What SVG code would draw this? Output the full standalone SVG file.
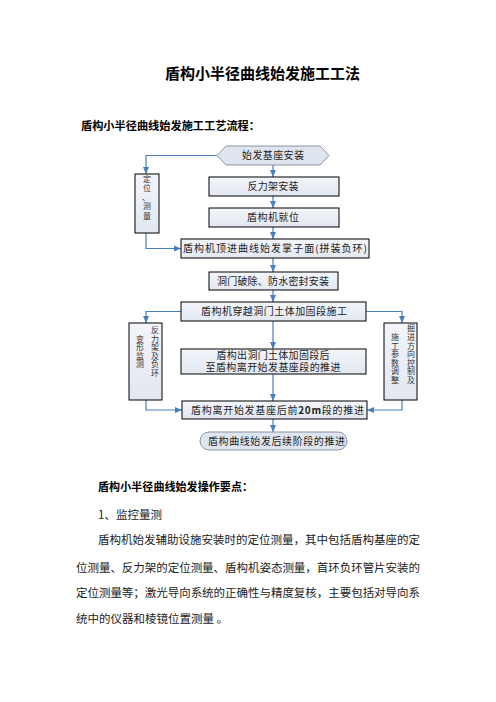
<svg xmlns="http://www.w3.org/2000/svg" width="496" height="702" viewBox="0 0 496 702">
<defs>
<marker id="ah" markerWidth="7" markerHeight="6" refX="7" refY="3" orient="auto" markerUnits="userSpaceOnUse">
<path d="M0,0 L7,3 L0,6 Z" fill="#4a7ebb"/>
</marker>
<linearGradient id="bg" x1="0" y1="0" x2="0" y2="1">
<stop offset="0" stop-color="#f3f5fa"/>
<stop offset="1" stop-color="#e2e7f1"/>
</linearGradient>
</defs>
<style>
.box{fill:url(#bg);stroke:#000;stroke-width:1}
.soft{fill:#dfe5ef;stroke:#8a94a6;stroke-width:1}
.t{font-family:"Noto Sans CJK SC","Noto Sans",sans-serif;font-size:10px;fill:#222;text-anchor:middle}
.v{font-family:"Noto Sans CJK SC","Noto Sans",sans-serif;font-size:8px;fill:#333;text-anchor:middle}
.c{fill:none;stroke:#4a7ebb;stroke-width:1.2;marker-end:url(#ah)}
.h{font-family:"Noto Sans CJK SC","Noto Sans",sans-serif;font-weight:bold;fill:#000}
.p{font-family:"Noto Sans CJK SC","Noto Sans",sans-serif;font-size:11.5px;fill:#222}
</style>
<rect width="496" height="702" fill="#fff"/>
<text class="h" x="262.5" y="79" font-size="15" text-anchor="middle">盾构小半径曲线始发施工工法</text>
<text class="h" x="81" y="130" font-size="11.2" textLength="179">盾构小半径曲线始发施工工艺流程：</text>

<g id="connectors">
<path class="c" d="M273,165 V177"/>
<path class="c" d="M273,196 V208"/>
<path class="c" d="M273,227 V239"/>
<path class="c" d="M273,258 V272"/>
<path class="c" d="M273,290 V302"/>
<path class="c" d="M273,321 V349"/>
<path class="c" d="M273,374 V401"/>
<path class="c" d="M273,419 V432"/>
<path class="c" d="M217,155.5 H146 V174"/>
<path class="c" d="M146,233 V248.5 H181"/>
<path class="c" d="M181,311.5 H146 V323"/>
<path class="c" d="M146,400 V410 H182"/>
<path class="c" d="M366,311.5 H402 V323"/>
<path class="c" d="M402,400 V410 H367"/>
</g>

<g id="n-start">
<polygon class="soft" points="217,155.5 226,146 320,146 329,155.5 320,165 226,165"/>
<text class="t" x="273" y="159" textLength="62">始发基座安装</text>
</g>
<g id="n-fanli">
<rect class="box" x="209" y="177" width="130" height="19"/>
<text class="t" x="273" y="190" textLength="51">反力架安装</text>
</g>
<g id="n-jiuwei">
<rect class="box" x="209" y="208" width="130" height="19"/>
<text class="t" x="273" y="221" textLength="52">盾构机就位</text>
</g>
<g id="n-dingjin">
<rect class="box" x="181" y="239" width="188" height="19"/>
<text class="t" x="275" y="252" textLength="184">盾构机顶进曲线始发掌子面(拼装负环)</text>
</g>
<g id="n-dongmen">
<rect class="box" x="209" y="272" width="129" height="18"/>
<text class="t" x="273" y="284.5" textLength="112">洞门破除、防水密封安装</text>
</g>
<g id="n-chuanyue">
<rect class="box" x="181" y="302" width="185" height="19"/>
<text class="t" x="274" y="315" textLength="146">盾构机穿越洞门土体加固段施工</text>
</g>
<g id="n-chudong">
<rect class="box" x="181" y="349" width="185" height="25"/>
<text class="t" x="273" y="359" textLength="113">盾构出洞门土体加固段后</text>
<text class="t" x="273" y="371" textLength="135">至盾构离开始发基座段的推进</text>
</g>
<g id="n-20m">
<rect class="box" x="182" y="401" width="185" height="18"/>
<text class="t" x="277.5" y="413.5" textLength="173">盾构离开始发基座后前<tspan font-weight="bold">20m</tspan>段的推进</text>
</g>
<g id="n-end">
<rect class="soft" x="200" y="432" width="147" height="18" rx="9" ry="9"/>
<text class="t" x="276.5" y="444.5" textLength="137">盾构曲线始发后续阶段的推进</text>
</g>
<g id="n-celiang">
<rect class="box" x="135" y="174" width="24" height="59"/>
<text class="v" font-size="8.5" x="147" y="182">定</text>
<text class="v" font-size="8.5" x="147" y="191">位</text>
<text class="v" font-size="8.5" x="146" y="199.5">、</text>
<text class="v" font-size="8.5" x="147" y="208.5">测</text>
<text class="v" font-size="8.5" x="147" y="219">量</text>
</g>
<g id="n-jiance">
<rect class="box" x="129" y="323" width="33" height="77"/>
<text class="v" x="155" y="333">反</text>
<text class="v" x="155" y="341.5">力</text>
<text class="v" x="155" y="350">架</text>
<text class="v" x="155" y="358.5">及</text>
<text class="v" x="155" y="367">负</text>
<text class="v" x="155" y="375.5">环</text>
<text class="v" x="140" y="341.5">变</text>
<text class="v" x="140" y="350">形</text>
<text class="v" x="140" y="358.5">监</text>
<text class="v" x="140" y="367">测</text>
</g>
<g id="n-tiaozheng">
<rect class="box" x="384" y="323" width="33" height="77"/>
<text class="v" x="411" y="331">掘</text>
<text class="v" x="411" y="340">进</text>
<text class="v" x="411" y="348.5">方</text>
<text class="v" x="411" y="357">向</text>
<text class="v" x="411" y="365.5">控</text>
<text class="v" x="411" y="374">制</text>
<text class="v" x="411" y="382.5">及</text>
<text class="v" x="395" y="340">施</text>
<text class="v" x="395" y="348.5">工</text>
<text class="v" x="395" y="357">参</text>
<text class="v" x="395" y="365.5">数</text>
<text class="v" x="395" y="374">调</text>
<text class="v" x="395" y="382.5">整</text>
</g>

<text class="h" x="98" y="491" font-size="11" textLength="155">盾构小半径曲线始发操作要点：</text>
<text class="p" x="98" y="519">1、监控量测</text>
<text class="p" x="98" y="544" textLength="322">盾构机始发辅助设施安装时的定位测量，其中包括盾构基座的定</text>
<text class="p" x="76" y="572" textLength="344">位测量、反力架的定位测量、盾构机姿态测量，首环负环管片安装的</text>
<text class="p" x="76" y="597" textLength="344">定位测量等；激光导向系统的正确性与精度复核，主要包括对导向系</text>
<text class="p" x="76" y="623">统中的仪器和棱镜位置测量 。</text>
</svg>
